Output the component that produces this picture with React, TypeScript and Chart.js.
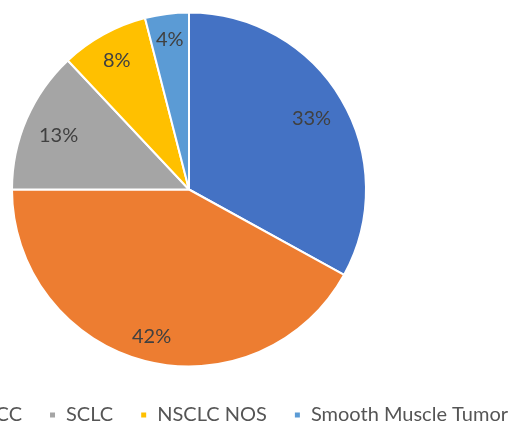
import React, { useEffect, useRef } from 'react';
import { Chart, registerables } from 'chart.js';

Chart.register(...registerables);

const categories = ['ADC', 'SCC', 'SCLC', 'NSCLC NOS', 'Smooth Muscle Tumor'];
const values = [33, 42, 13, 8, 4];
const colors = ['#4472C4', '#ED7D31', '#A5A5A5', '#FFC000', '#5B9BD5'];

const FONT = 'Lato, "Open Sans", sans-serif';
const FONT_SIZE = 20;

// Excel-like "best fit": the label box's far corner sits at a fixed fraction of the radius
const labelPlugin = {
  id: 'pctLabels',
  afterDatasetsDraw(chart: any) {
    const ctx = chart.ctx;
    const meta = chart.getDatasetMeta(0);
    const data = chart.data.datasets[0].data as number[];
    const total = data.reduce((a: number, b: number) => a + b, 0);
    ctx.save();
    ctx.font = `${FONT_SIZE}px ${FONT}`;
    ctx.fillStyle = '#404040';
    ctx.textAlign = 'center';
    ctx.textBaseline = 'middle';
    meta.data.forEach((arc: any, i: number) => {
      const { x, y, startAngle, endAngle, outerRadius } = arc.getProps(
        ['x', 'y', 'startAngle', 'endAngle', 'outerRadius'],
        true
      );
      const text = Math.round((data[i] / total) * 100) + '%';
      const w = ctx.measureText(text).width;
      const h = 14;
      const mid = (startAngle + endAngle) / 2;
      const c = Math.cos(mid);
      const s = Math.sin(mid);
      const target = outerRadius * 0.92;
      let lo = 0;
      let hi = outerRadius;
      for (let k = 0; k < 40; k++) {
        const d = (lo + hi) / 2;
        const cx = d * c + Math.sign(c) * (w / 2);
        const cy = d * s + Math.sign(s) * (h / 2);
        if (Math.hypot(cx, cy) > target) hi = d;
        else lo = d;
      }
      const d = (lo + hi) / 2;
      ctx.fillText(text, x + c * d, y + s * d + 2);
    });
    ctx.restore();
  },
};

export default function App() {
  const ref = useRef<HTMLCanvasElement>(null);
  useEffect(() => {
    if (!ref.current) return;
    const chart = new Chart(ref.current, {
      type: 'pie',
      data: {
        labels: categories,
        datasets: [
          {
            data: values,
            backgroundColor: colors,
            borderColor: '#ffffff',
            borderWidth: 2,
            hoverOffset: 0,
            radius: 177,
          } as any,
        ],
      },
      options: {
        animation: false,
        responsive: true,
        maintainAspectRatio: false,
        layout: { padding: { top: 1 } },
        plugins: {
          tooltip: { enabled: false },
          legend: {
            position: 'bottom',
            align: 'end',
            labels: {
              boxWidth: 7,
              boxHeight: 7,
              padding: 27,
              color: '#555555',
              font: { family: FONT, size: FONT_SIZE },
            },
          },
        },
      },
      plugins: [labelPlugin],
    });
    return () => chart.destroy();
  }, []);
  return (
    <div style={{ position: 'fixed', left: -157, top: 0, width: 692, height: 435 }}>
      <canvas ref={ref} />
    </div>
  );
}
